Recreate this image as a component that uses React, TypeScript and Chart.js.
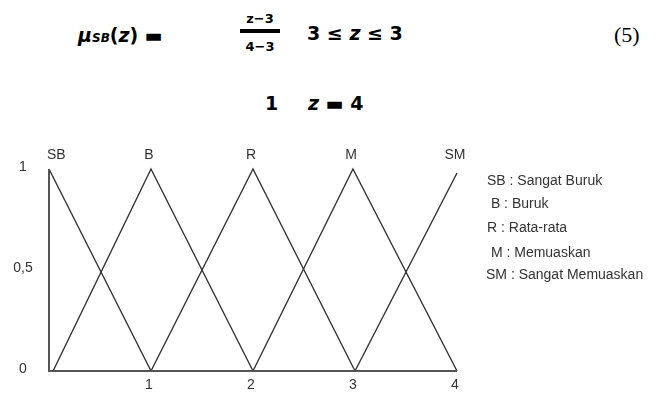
import React, { useEffect, useRef } from "react";
import { Chart, registerables } from "chart.js";

Chart.register(...registerables);

// ---- data ----
const xTickValues = [1, 2, 3, 4];
const xTickLabels = ["1", "2", "3", "4"];
const yTickValues = [0, 0.5, 1];
const yTickLabels = ["0", "0,5", "1"];

const seriesNames = ["SB", "B", "R", "M", "SM"];
const sbX = [0, 1];
const sbY = [1, 0];
const bX = [0.04, 1, 2];
const bY = [0, 1, 0];
const rX = [1, 2, 3];
const rY = [0, 1, 0];
const mX = [2, 2.98, 4];
const mY = [0, 1, 0];
const smX = [3, 4];
const smY = [0, 0.98];

const legendLines = [
  "SB : Sangat Buruk",
  " B : Buruk",
  "R : Rata-rata",
  " M : Memuaskan",
  "SM : Sangat Memuaskan",
];

const allX = [sbX, bX, rX, mX, smX];
const allY = [sbY, bY, rY, mY, smY];

const W = 658;
const H = 393;
const FONT = '"Liberation Sans", Arial, sans-serif';
const TEXT = "#333333";
const LINE = "#333333";

export default function App() {
  const ref = useRef<HTMLCanvasElement | null>(null);

  useEffect(() => {
    const canvas = ref.current;
    if (!canvas) return;

    const axisPlugin = {
      id: "fuzzyAxes",
      afterDatasetsDraw(chart: any) {
        const ctx = chart.ctx;
        const xs = chart.scales.x;
        const ys = chart.scales.y;
        const x0 = xs.getPixelForValue(0);
        const x4 = xs.getPixelForValue(4);
        const y0 = ys.getPixelForValue(0);
        const y1 = ys.getPixelForValue(1);
        ctx.save();
        ctx.strokeStyle = "#555555";
        ctx.lineWidth = 2;
        ctx.beginPath();
        ctx.moveTo(x0, y1);
        ctx.lineTo(x0, y0);
        ctx.lineTo(x4, y0);
        ctx.stroke();

        ctx.fillStyle = TEXT;
        ctx.font = `14px ${FONT}`;
        ctx.textBaseline = "middle";
        ctx.textAlign = "center";
        xTickValues.forEach((v, i) => {
          ctx.fillText(xTickLabels[i], xs.getPixelForValue(v) - 2, y0 + 14);
        });
        yTickValues.forEach((v, i) => {
          ctx.fillText(yTickLabels[i], 23, ys.getPixelForValue(v) - 2);
        });

        // series name labels above peaks
        seriesNames.forEach((name, i) => {
          const xsArr = allX[i];
          const ysArr = allY[i];
          let k = 0;
          ysArr.forEach((yy, j) => {
            if (yy > ysArr[k]) k = j;
          });
          const px = xs.getPixelForValue(xsArr[k]);
          if (px - 10 < x0) {
            ctx.textAlign = "left";
            ctx.fillText(name, x0 - 2, y1 - 14);
          } else {
            ctx.textAlign = "center";
            ctx.fillText(name, px - 2, y1 - 14);
          }
        });
        ctx.restore();
      },
    };

    const chart = new Chart(canvas, {
      type: "line",
      data: {
        datasets: seriesNames.map((name, i) => ({
          label: name,
          data: allX[i].map((x, j) => ({ x, y: allY[i][j] })),
          borderColor: LINE,
          borderWidth: 1.4,
          pointRadius: 0,
          fill: false,
          tension: 0,
          clip: false as any,
        })),
      },
      options: {
        animation: false,
        responsive: false,
        devicePixelRatio: 1,
        layout: { padding: { left: 49, right: W - 457, top: 169, bottom: 22 } },
        plugins: { legend: { display: false }, tooltip: { enabled: false } },
        scales: {
          x: { type: "linear", min: 0, max: 4, display: false },
          y: { type: "linear", min: 0, max: 1, display: false },
        },
      },
      plugins: [axisPlugin],
    });
    return () => chart.destroy();
  }, []);

  const eqFont = '"DejaVu Sans", "Liberation Sans", sans-serif';
  const abs = (left: number, top: number, extra: React.CSSProperties = {}): React.CSSProperties => ({
    position: "absolute",
    left,
    top,
    whiteSpace: "pre",
    lineHeight: 1,
    ...extra,
  });

  return (
    <div style={{ position: "absolute", left: 0, top: 0, width: W, height: H, background: "#fff", overflow: "hidden" }}>
      {/* formula */}
      <div style={abs(78, 24, { font: `bold 19px ${eqFont}`, color: "#000" })}>
        <span style={{ fontStyle: "italic" }}>μ</span>
        <span style={{ fontSize: 12, fontStyle: "italic" }}>SB</span>
        (<span style={{ fontStyle: "italic" }}>z</span>) ▬
      </div>
      <div style={abs(240, 11, { font: `bold 13px ${eqFont}`, color: "#000", width: 40, textAlign: "center" })}>z−3</div>
      <div style={{ position: "absolute", left: 240, top: 29, width: 40, height: 4, background: "#000" }} />
      <div style={abs(240, 39, { font: `bold 13px ${eqFont}`, color: "#000", width: 40, textAlign: "center" })}>4−3</div>
      <div style={abs(307, 22, { font: `bold 19px ${eqFont}`, color: "#000" })}>3 ≤ <i>z</i> ≤ 3</div>
      <div style={abs(265, 92, { font: `bold 19px ${eqFont}`, color: "#000" })}>1</div>
      <div style={abs(308, 92, { font: `bold 19px ${eqFont}`, color: "#000" })}><i>z</i> ▬ 4</div>
      <div style={abs(614, 22, { font: `22px "Liberation Serif", "Times New Roman", serif`, color: "#000" })}>(5)</div>

      <canvas ref={ref} width={W} height={H} style={{ position: "absolute", left: 0, top: 0, width: W, height: H }} />

      {/* legend text */}
      {legendLines.map((t, i) => (
        <div key={i} style={abs([487, 487, 487, 487, 486][i], [172, 195, 219, 244, 266][i], { font: `14px ${FONT}`, color: TEXT, lineHeight: "16px" })}>
          {t}
        </div>
      ))}
    </div>
  );
}
